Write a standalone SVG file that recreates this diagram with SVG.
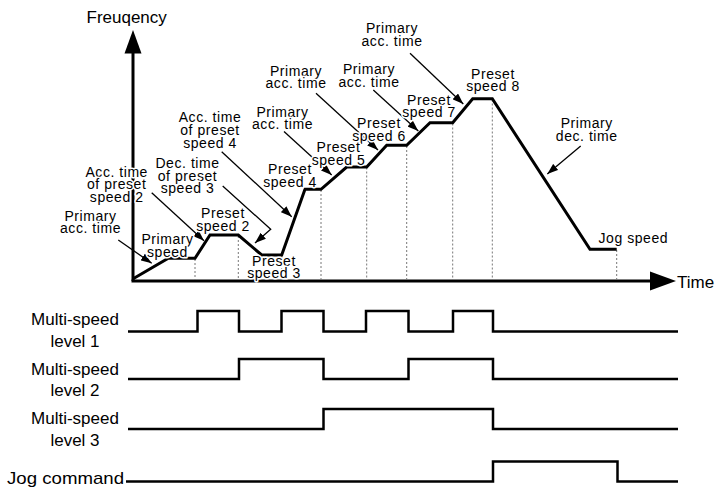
<svg xmlns="http://www.w3.org/2000/svg" width="721" height="487" viewBox="0 0 721 487">
<style>
  text { font-family: "Liberation Sans", Arial, sans-serif; fill: #000; }
  .lbl { font-size: 14px; letter-spacing: 0.55px; text-anchor: middle; paint-order: stroke; stroke: #fff; stroke-width: 3px; stroke-linejoin: round; }
  .big { font-size: 17px; }
  .sig { font-size: 17px; text-anchor: middle; }
  .axis { stroke: #000; stroke-width: 3; fill: none; }
  .prof { stroke: #000; stroke-width: 3; fill: none; stroke-linejoin: miter; }
  .dash { stroke: #777; stroke-width: 1; stroke-dasharray: 2 2; fill: none; }
  .lead { stroke: #000; stroke-width: 1.3; fill: none; marker-end: url(#ah); }
  .wave { stroke: #000; stroke-width: 2.5; fill: none; }
</style>
<defs>
  <marker id="ah" markerUnits="userSpaceOnUse" markerWidth="11" markerHeight="8" refX="11" refY="4" orient="auto">
    <path d="M0,0 L11,4 L0,8 z" fill="#000"/>
  </marker>
</defs>
<rect width="721" height="487" fill="#fff"/>

<g id="axes">
  <line class="axis" x1="133" y1="281" x2="133" y2="52"/>
  <polygon points="133,30 124.5,53.5 141.5,53.5" fill="#000"/>
  <line class="axis" x1="131.5" y1="281" x2="651" y2="281"/>
  <polygon points="676,281 650,271.5 650,290.5" fill="#000"/>
  <text class="big" x="86.5" y="22.5">Freuqency</text>
  <text class="big" x="677" y="287.5">Time</text>
</g>

<g id="guides">
  <line class="dash" x1="195" y1="259" x2="195" y2="280"/>
  <line class="dash" x1="238.3" y1="236" x2="238.3" y2="280"/>
  <line class="dash" x1="281.7" y1="256" x2="281.7" y2="280"/>
  <line class="dash" x1="321" y1="190" x2="321" y2="280"/>
  <line class="dash" x1="366.7" y1="167.5" x2="366.7" y2="280"/>
  <line class="dash" x1="406.7" y1="146" x2="406.7" y2="280"/>
  <line class="dash" x1="452.7" y1="123.5" x2="452.7" y2="280"/>
  <line class="dash" x1="492.3" y1="99.5" x2="492.3" y2="280"/>
  <line class="dash" x1="616.7" y1="250" x2="616.7" y2="280"/>
</g>

<g id="profile">
  <polyline class="prof" points="132.7,279 168.3,258.3 195,258.3 210,235 238.3,235 261.7,255 281.7,255 305,189.3 321,189.3 346.7,167 366.7,167 386.7,145.3 406.7,145.3 430,122.7 452.7,122.7 472.7,98.7 492.3,98.7 590,249.3 616.7,249.3"/>
</g>

<g id="connectors">
  <line class="lead" x1="118.3" y1="240" x2="151.7" y2="263.3"/>
  <line class="lead" x1="151.7" y1="192.7" x2="204" y2="240.7"/>
  <polyline class="lead" points="222.7,186 270.7,229.3 255,243"/>
  <line class="lead" x1="221.7" y1="151.7" x2="291.7" y2="216.7"/>
  <line class="lead" x1="284" y1="131.5" x2="331.7" y2="175"/>
  <line class="lead" x1="316" y1="93.3" x2="378" y2="150"/>
  <line class="lead" x1="373.3" y1="90" x2="418.3" y2="131"/>
  <line class="lead" x1="410" y1="53.3" x2="463.3" y2="104"/>
  <line class="lead" x1="580.7" y1="146" x2="547.3" y2="174"/>
</g>

<g id="lbl-primary-acc-1"><text class="lbl" x="90.5" y="220.7">Primary</text><text class="lbl" x="90.5" y="233.3">acc. time</text></g>
<g id="lbl-acc-preset2"><text class="lbl" x="116.7" y="176.5">Acc. time</text><text class="lbl" x="116.7" y="189">of preset</text><text class="lbl" x="116.7" y="201.5">speed 2</text></g>
<g id="lbl-dec-preset3"><text class="lbl" x="187.5" y="168">Dec. time</text><text class="lbl" x="187.5" y="180.5">of preset</text><text class="lbl" x="187.5" y="193">speed 3</text></g>
<g id="lbl-acc-preset4"><text class="lbl" x="210" y="122.4">Acc. time</text><text class="lbl" x="210" y="135">of preset</text><text class="lbl" x="210" y="147.8">speed 4</text></g>
<g id="lbl-primary-acc-2"><text class="lbl" x="282.5" y="116.7">Primary</text><text class="lbl" x="282.5" y="129.3">acc. time</text></g>
<g id="lbl-primary-acc-3"><text class="lbl" x="296" y="75.7">Primary</text><text class="lbl" x="296" y="88.3">acc. time</text></g>
<g id="lbl-primary-acc-4"><text class="lbl" x="369" y="74">Primary</text><text class="lbl" x="369" y="86.7">acc. time</text></g>
<g id="lbl-primary-acc-5"><text class="lbl" x="392" y="33.4">Primary</text><text class="lbl" x="392" y="46">acc. time</text></g>
<g id="lbl-preset8"><text class="lbl" x="493" y="78.5">Preset</text><text class="lbl" x="493" y="91">speed 8</text></g>
<g id="lbl-preset7"><text class="lbl" x="429" y="104.7">Preset</text><text class="lbl" x="429" y="117">speed 7</text></g>
<g id="lbl-preset6"><text class="lbl" x="379" y="128">Preset</text><text class="lbl" x="379" y="140.5">speed 6</text></g>
<g id="lbl-preset5"><text class="lbl" x="338.5" y="152.3">Preset</text><text class="lbl" x="338.5" y="164.8">speed 5</text></g>
<g id="lbl-preset4"><text class="lbl" x="290" y="174">Preset</text><text class="lbl" x="290" y="186.5">speed 4</text></g>
<g id="lbl-preset2"><text class="lbl" x="223" y="218">Preset</text><text class="lbl" x="223" y="230.5">speed 2</text></g>
<g id="lbl-primary-speed"><text class="lbl" x="167.5" y="244">Primary</text><text class="lbl" x="167.5" y="256.5">speed</text></g>
<g id="lbl-preset3"><text class="lbl" x="274" y="265.7">Preset</text><text class="lbl" x="274" y="278">speed 3</text></g>
<g id="lbl-primary-dec"><text class="lbl" x="586.7" y="128">Primary</text><text class="lbl" x="586.7" y="140.5">dec. time</text></g>
<g id="lbl-jog-speed"><text class="lbl" x="633.3" y="243">Jog speed</text></g>

<g id="sig-level1">
  <text class="sig" x="75" y="325">Multi-speed</text><text class="sig" x="75" y="347">level 1</text>
  <path class="wave" d="M128,331.5 H197.5 V311 H239 V331.5 H281.5 V311 H323.5 V331.5 H366 V311 H408.5 V331.5 H453 V311 H493 V331.5 H678"/>
</g>
<g id="sig-level2">
  <text class="sig" x="75" y="375">Multi-speed</text><text class="sig" x="75" y="396.3">level 2</text>
  <path class="wave" d="M128,379 H239 V359 H323.5 V379 H408.5 V359 H493 V379 H678"/>
</g>
<g id="sig-level3">
  <text class="sig" x="75" y="424">Multi-speed</text><text class="sig" x="75" y="445.6">level 3</text>
  <path class="wave" d="M128,429 H323.5 V409 H493 V429 H678"/>
</g>
<g id="sig-jog">
  <text class="big" x="7" y="484.3" textLength="117" lengthAdjust="spacingAndGlyphs">Jog command</text>
  <path class="wave" d="M126,481.5 H493 V461.5 H617.5 V481.5 H678"/>
</g>
</svg>
